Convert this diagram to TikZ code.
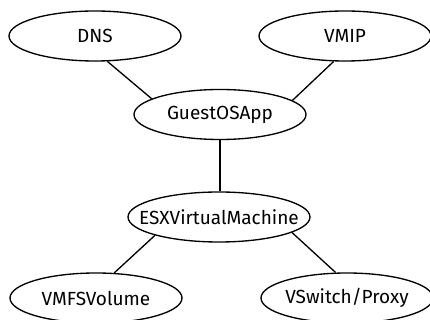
\documentclass[tikz,border=0pt]{standalone}
\usepackage{fontspec}
\setmainfont{Fira Sans}
\usetikzlibrary{shapes.geometric}
\tikzset{every picture/.style={line width=1pt}}
\tikzset{res/.style={draw,ellipse,inner sep=0pt,minimum width=129pt,minimum height=37.5pt,font=\fontsize{14.25}{16}\selectfont}}

\begin{document}
\begin{tikzpicture}[x=0.75pt,y=0.75pt,yscale=-1,xscale=1]
	\useasboundingbox (0,0) rectangle (430,320);

	% Resource nodes
	\node [res] (dns) at (95,36) {\makebox[0pt]{DNS}};
	\node [res] (vmip) at (345,36) {\makebox[0pt]{VMIP}};
	\node [res] (guest) at (220,114.5) {\makebox[0pt]{GuestOSApp}};
	\node [res,minimum width=136.5pt] (esx) at (219,217) {\makebox[0pt]{ESXVirtualMachine}};
	\node [res] (vmfs) at (96,298) {\makebox[0pt]{VMFSVolume}};
	\node [res] (vswitch) at (347,298) {\makebox[0pt]{VSwitch/Proxy}};

	% Dependencies
	\draw (dns.-64) -- (guest.167);
	\draw (vmip.246) -- (guest.11);
	\draw (guest.south) -- (guest.south |- esx.north);
	\draw (esx.196) -- (vmfs.54);
	\draw (esx.-12) -- (vswitch.114);
\end{tikzpicture}
\end{document}
